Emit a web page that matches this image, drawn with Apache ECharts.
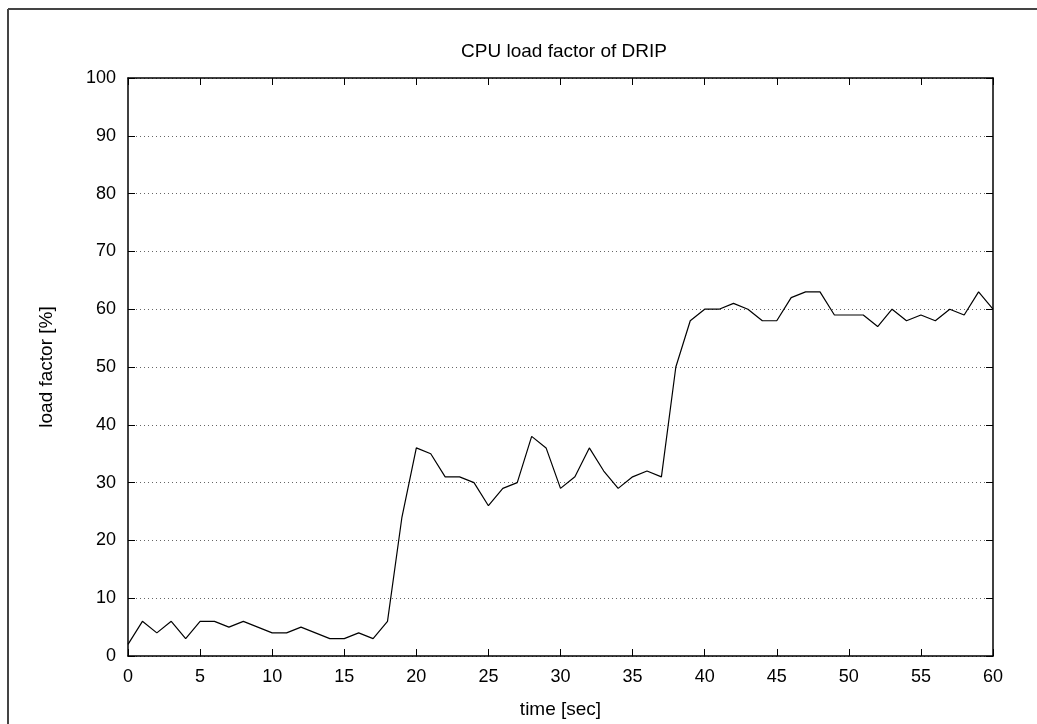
<!DOCTYPE html>
<html>
<head>
<meta charset="utf-8">
<script src="https://cdn.jsdelivr.net/npm/echarts@6/dist/echarts.min.js"></script>
<style>
html,body{margin:0;padding:0;background:#fff;}
#c{width:1037px;height:724px;}
</style>
</head>
<body>
<div id="c"></div>
<script>
const times = [0,1,2,3,4,5,6,7,8,9,10,11,12,13,14,15,16,17,18,19,20,21,22,23,24,25,26,27,28,29,30,31,32,33,34,35,36,37,38,39,40,41,42,43,44,45,46,47,48,49,50,51,52,53,54,55,56,57,58,59,60];
const loadFactor = [2,6,4,6,3,6,6,5,6,5,4,4,5,4,3,3,4,3,6,24,36,35,31,31,30,26,29,30,38,36,29,31,36,32,29,31,32,31,50,58,60,60,61,60,58,58,62,63,63,59,59,59,57,60,58,59,58,60,59,63,60];
const titleText = 'CPU load factor of DRIP';
const xName = 'time [sec]';
const yName = 'load factor [%]';

const font = 'Liberation Sans, Arial, sans-serif';
const chart = echarts.init(document.getElementById('c'), null, {renderer:'canvas'});
const seriesData = times.map((t,i)=>[t, loadFactor[i]]);
const axisLine = {show:true, onZero:false, lineStyle:{color:'#000', width:1.5}};
const ticks = {show:true, inside:true, length:7, lineStyle:{color:'#000', width:1}};
chart.setOption({
  backgroundColor:'#fff',
  animation:false,
  title:{text:titleText, left:559, textAlign:'center', top:37,
    textStyle:{fontFamily:font, fontSize:19, fontWeight:'normal', color:'#000'}},
  grid:{left:128, right:44, top:78, bottom:65, containLabel:false},
  xAxis:[{type:'value', min:0, max:60, interval:5, position:'bottom',
    name:xName, nameLocation:'middle', nameGap:44,
    nameTextStyle:{fontFamily:font, fontSize:19, color:'#000'},
    axisLine:axisLine, axisTick:ticks,
    axisLabel:{fontFamily:font, fontSize:18, color:'#000', margin:12},
    splitLine:{show:false}},
   {type:'value', min:0, max:60, interval:5, position:'top',
    axisLine:axisLine, axisTick:ticks, axisLabel:{show:false}, splitLine:{show:false}}],
  yAxis:[{type:'value', min:0, max:100, interval:10, position:'left',
    name:yName, nameLocation:'middle', nameGap:72, nameRotate:90,
    nameTextStyle:{fontFamily:font, fontSize:19, color:'#000'},
    axisLine:axisLine, axisTick:ticks,
    axisLabel:{fontFamily:font, fontSize:18, color:'#000', margin:12},
    splitLine:{show:true, lineStyle:{color:'#666', type:[1,3], width:1}}},
   {type:'value', min:0, max:100, interval:10, position:'right',
    axisLine:axisLine, axisTick:ticks, axisLabel:{show:false}, splitLine:{show:false}}],
  graphic:[
    {type:'line', shape:{x1:8, y1:9, x2:1037, y2:9}, style:{stroke:'#444', lineWidth:2}},
    {type:'line', shape:{x1:8, y1:9, x2:8, y2:724}, style:{stroke:'#444', lineWidth:2}}
  ],
  series:[{type:'line', data:seriesData, showSymbol:false, symbol:'none',
    lineStyle:{color:'#000', width:1.2}, xAxisIndex:0, yAxisIndex:0}]
});
</script>
</body>
</html>
